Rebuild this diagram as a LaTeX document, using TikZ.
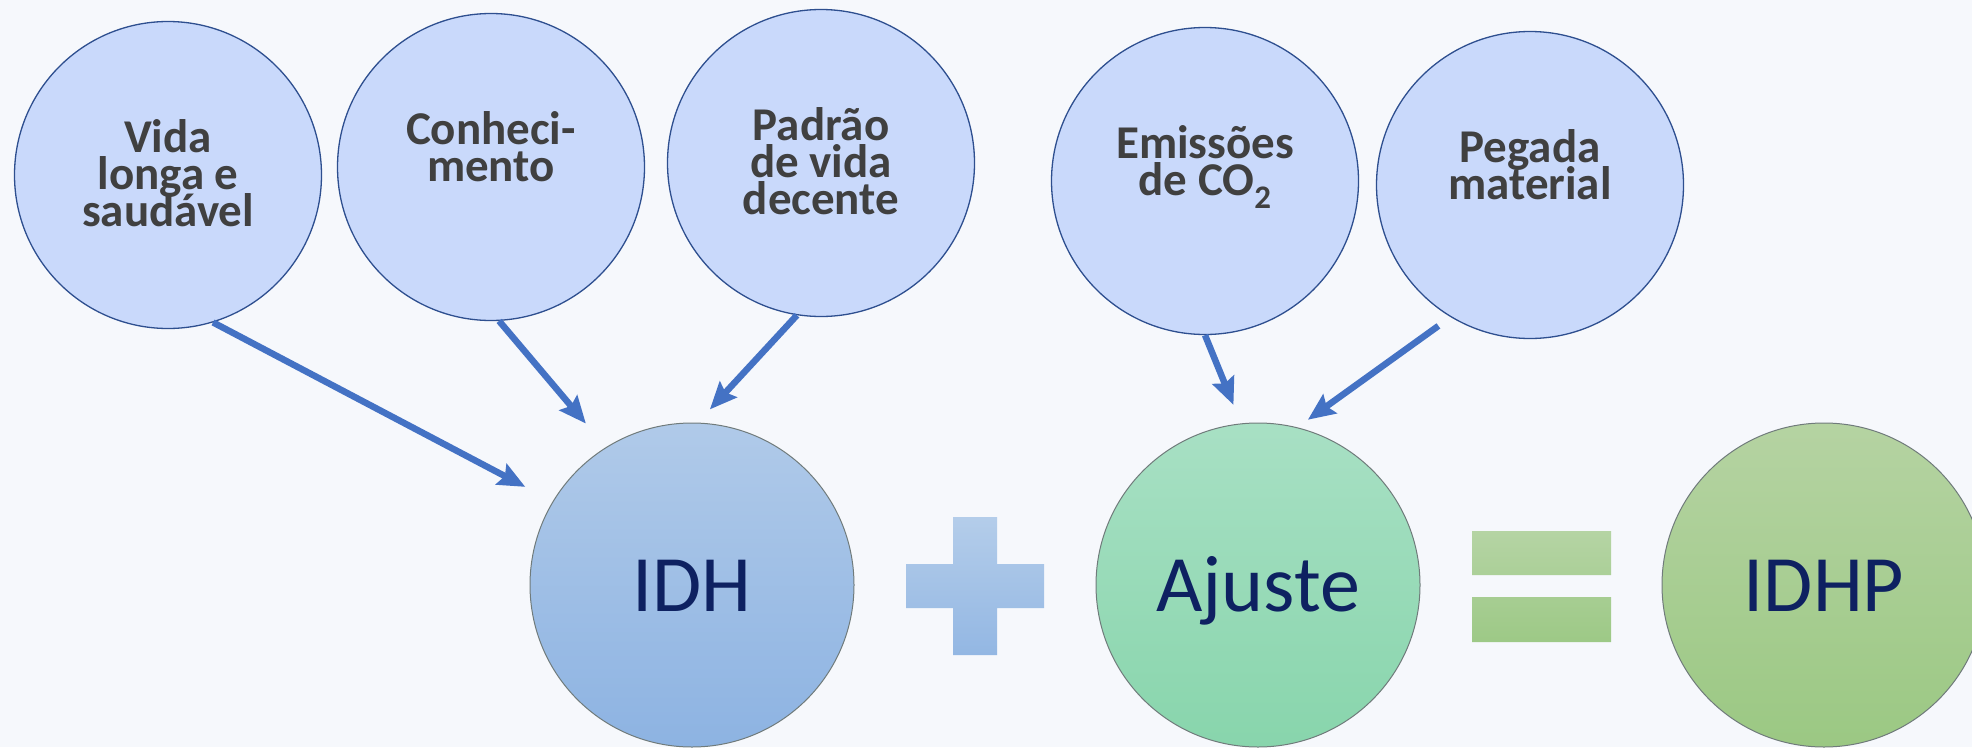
\documentclass[tikz,border=0pt]{standalone}
\usepackage{fontspec}
\setmainfont{Carlito}
\usepackage{tikz}
\usetikzlibrary{positioning,arrows.meta}
\definecolor{bgpage}{HTML}{F6F8FC}
\definecolor{dimfill}{HTML}{C9D9FB}
\definecolor{dimline}{HTML}{2E4F8F}
\definecolor{lblgray}{HTML}{404040}
\definecolor{arrblue}{HTML}{4472C4}
\definecolor{resline}{HTML}{707B7B}
\definecolor{restext}{HTML}{0E2161}
\definecolor{idhtop}{HTML}{B0CAE9}
\definecolor{idhbot}{HTML}{8DB3E2}
\definecolor{ajtop}{HTML}{A8E0C4}
\definecolor{ajbot}{HTML}{88D5AC}
\definecolor{idhptop}{HTML}{B5D3A2}
\definecolor{idhpbot}{HTML}{9BC883}
\definecolor{plustop}{HTML}{B4CDEA}
\definecolor{plusbot}{HTML}{93B7E3}
\definecolor{eqtop}{HTML}{B5D4A4}
\definecolor{eqbot}{HTML}{9DC986}
\newcommand{\lblfont}{\fontsize{47}{37}\selectfont\bfseries\lineskiplimit=-100pt\relax}
\tikzstyle{dim}=[%
      circle, draw=dimline, line width=1.3pt, fill=dimfill,
      minimum size=307pt, inner sep=0pt
]
\tikzstyle{lbl}=[%
      text=lblgray, align=center, anchor=base, inner sep=0pt, font=\lblfont
]
\tikzstyle{res}=[%
      circle, draw=resline, line width=1pt, minimum size=324pt, inner sep=0pt,
      text=restext, font=\fontsize{80}{96}\selectfont, text height=52pt, text depth=0pt
]
\tikzstyle{arr}=[%
      -{Stealth[length=27pt,width=23pt,inset=4pt]}, line width=6.5pt, draw=arrblue
]

\begin{document}
\begin{tikzpicture}[x=1pt,y=-1pt]
\fill[bgpage](0,0) rectangle (1972,747);
\clip(0,0) rectangle (1972,747);

% dimensoes
\node[dim](vida) at (168,175){};
\node[dim](conh) at (491,167){};
\node[dim](padrao) at (821,163){};
\node[dim](emis) at (1205,181){};
\node[dim](pegada) at (1530,185){};

% base = last line
\node[lbl](tvida) at ([yshift=-51pt]vida.center){Vida\\longa e\\saudável};
\node[lbl](tconh) at ([yshift=-14pt]conh.center){Conheci-\\mento};
\node[lbl](tpadrao) at ([yshift=-51pt]padrao.center){Padrão\\de vida\\decente};
\node[lbl](temis) at ([yshift=-14pt]emis.center){Emissões\\de CO\textsubscript{2}};
\node[lbl](tpegada) at ([yshift=-14pt]pegada.center){Pegada\\material};

% indices
\node[res, top color=idhtop, bottom color=idhbot](idh) at (692,585){IDH};
\node[res, top color=ajtop, bottom color=ajbot](ajuste) at (1258,585){Ajuste};
\node[res, top color=idhptop, bottom color=idhpbot](idhp) at (1824,585){IDHP};

\shade[top color=plustop, bottom color=plusbot](953,517) rectangle (997,655) (906,564) rectangle (1044,608);
\shade[top color=eqtop, bottom color=eqbot](1472,531) rectangle (1611,575) (1472,597) rectangle (1611,642);

\draw[arr, shorten >=31pt](vida.-73) -- (idh.149);
\draw[arr, shorten >=31pt](conh.-87) -- (idh.122);
\draw[arr, shorten >=18pt](padrao.-99) -- (idh.88);
\draw[arr, shorten >=20pt](emis.-90) -- (ajuste.96);
\draw[arr, shorten <=15pt, shorten >=13pt](pegada.-121) -- (ajuste.76);
\end{tikzpicture}
\end{document}
